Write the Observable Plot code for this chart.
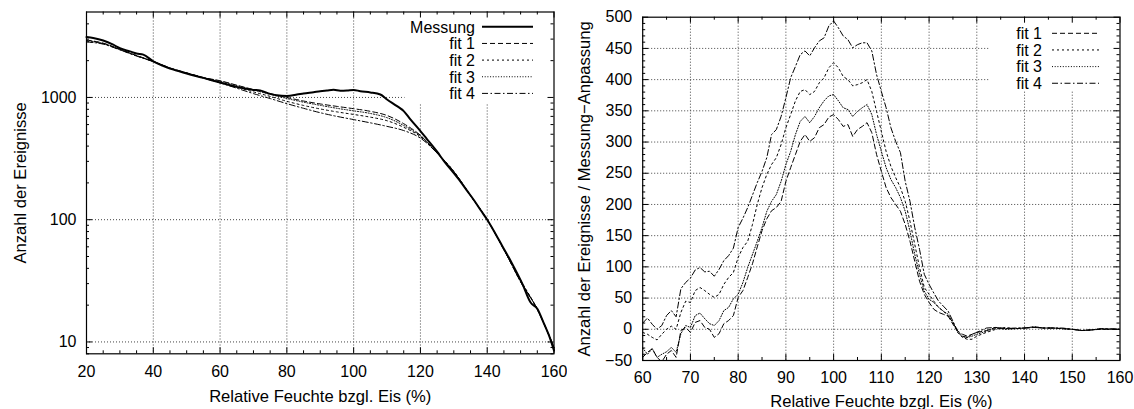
<!DOCTYPE html>
<html><head><meta charset="utf-8">
<script src="https://cdn.jsdelivr.net/npm/d3@7"></script>
<script src="https://cdn.jsdelivr.net/npm/@observablehq/plot@0.6"></script>
<style>
body{margin:0;background:#fff;}
#wrap{display:flex;width:1134px;height:409px;background:#fff;}
</style></head><body><div id="wrap"></div>
<script>
// ---------- DATA ----------
const seriesNames = ["Messung", "fit 1", "fit 2", "fit 3", "fit 4"];
const xLabel = "Relative Feuchte bzgl. Eis (%)";
const yLabelLeft = "Anzahl der Ereignisse";
const yLabelRight = "Anzahl der Ereignisse / Messung\u2212Anpassung";

// left panel: counts (log scale)
const xMessung = [20,22,25,28,30,33,35,37,40,43,45,48,50,55,60,65,70,72,75,77,80,83,85,88,90,92,94,96,98,100,102,105,108,110,113,115,117,120,122,125,127,130,132,134,136,138,140,142,144.5,147.5,150.5,153,155,157,158.5,160];
const messung  = [3120,3060,2920,2700,2530,2380,2285,2240,1975,1810,1720,1630,1570,1445,1325,1220,1153,1140,1070,1040,1030,1055,1078,1105,1125,1140,1155,1135,1140,1153,1125,1100,1058,963,849,773,661,531,455,360,303,240,205,172,145,120,100,81,61,43.5,30,21,18.7,14.1,11.3,8.5];

const xFit = [20,25,30,35,40,45,50,55,60,65,70,75,80,85,90,95,100,105,110,115,120,125,130,135,140,145,150,155,160];
const fit1 = [2950,2780,2480,2200,1975,1745,1590,1455,1370,1260,1160,1075,1000,935,885,845,809,770,712,610,490,352,246,158,100,57,31,18.5,9];
const fit2 = [2880,2750,2460,2190,1965,1735,1580,1445,1330,1215,1110,1020,930,860,805,762,726,690,645,570,478,350,250,157,100,57,32,18.5,9];
const fit3 = [2920,2770,2470,2200,1970,1740,1585,1450,1360,1250,1150,1060,980,915,862,815,777,740,683,590,485,350,248,158,100,57,31.5,18.5,9];
const fit4 = [2840,2730,2450,2180,1960,1730,1575,1440,1315,1190,1075,980,890,815,750,700,659,620,580,536,465,350,245,157,100,57,31,18.5,9];

// right panel: Messung - Anpassung
const xDiff = [60,61,62,63,64,65,66,67,68,69,70,71,72,73,74,75,76,77,78,79,80,81,82,83,84,85,86,87,88,89,90,91,92,93,94,95,96,97,98,99,100,101,102,103,104,105,106,107,108,109,110,111,112,113,114,115,116,117,118,119,120,121,122,123,124,125,126,127,128,129,130,132,134,136,138,140,142,144,146,148,150,152,154,156,158,160];
const diff1 = [-45,-37,-31,-45,-52,-40,-34,-45,-2,3,-5,11,14,3,0,-13,-7,9,14,22,51,62,83,105,132,158,177,190,195,205,237,259,280,301,312,301,307,323,328,340,344,336,325,328,309,320,325,331,315,280,253,227,211,200,189,168,141,109,77,56,43,32,27,24,21,8,-3,-8,-11,-8,-5,-2,3,1,1,2,3,2,2,1,0,-2,-1,0,0,0];
const diff2 = [-5,-8,-13,-17,-8,0,5,0,27,45,43,62,67,62,56,51,56,72,83,91,115,131,141,168,200,227,248,264,275,296,323,344,366,381,384,376,381,395,403,419,427,419,405,400,390,392,395,400,381,349,317,285,261,243,227,205,173,136,99,67,56,45,35,29,21,11,-5,-13,-16,-16,-11,-5,0,3,1,2,3,2,2,1,0,-2,-1,0,0,0];
const diff3 = [-30,-40,-31,-45,-40,-36,-29,-37,-7,6,3,22,26,17,9,6,14,30,35,49,56,75,99,120,141,163,189,205,216,237,264,285,312,333,341,331,341,355,366,374,376,366,355,352,341,349,355,360,344,312,285,259,240,227,211,189,157,120,88,61,48,43,35,29,24,11,-5,-12,-13,-11,-8,-3,2,0,1,2,4,2,2,1,0,-2,-1,1,0,0];
const diff4 = [10,18,8,0,6,22,30,20,65,75,82,95,99,92,93,85,96,110,118,130,163,178,195,215,235,253,275,312,320,341,371,403,421,440,446,438,451,462,467,486,494,483,470,464,451,456,459,459,446,408,381,355,323,301,283,237,205,163,128,88,72,58,45,37,29,13,-3,-11,-13,-8,-5,2,3,1,2,2,4,2,2,2,0,-2,-1,1,1,0];

// tick labels
const xTicksLeft = [20,40,60,80,100,120,140,160];
const yTicksLeft = [10,100,1000];
const xTicksRight = [60,70,80,90,100,110,120,130,140,150,160];
const yTicksRight = [-50,0,50,100,150,200,250,300,350,400,450,500];

// ---------- STYLE ----------
const FONT = "'Liberation Sans', Arial, Helvetica, sans-serif";
const dash = {"Messung": null, "fit 1": "5,3", "fit 2": "2,3", "fit 3": "1,1.7", "fit 4": "6,2.5,1.5,2.5"};
const width = {"Messung": 2, "fit 1": 1, "fit 2": 1, "fit 3": 1, "fit 4": 1};
const gridStyle = {stroke: "#444", strokeDasharray: "1,2", strokeWidth: 1};

function ticksMarks(xMajor, xMinor, yMajor, yMinor, fw, fh) {
  const M = 6, m = 3, s = {stroke: "black", strokeWidth: 1};
  return [
    Plot.ruleX(xMajor, {...s, insetTop: fh - M}),
    Plot.ruleX(xMajor, {...s, insetBottom: fh - M}),
    Plot.ruleX(xMinor, {...s, insetTop: fh - m}),
    Plot.ruleX(xMinor, {...s, insetBottom: fh - m}),
    Plot.ruleY(yMajor, {...s, insetRight: fw - M}),
    Plot.ruleY(yMajor, {...s, insetLeft: fw - M}),
    Plot.ruleY(yMinor, {...s, insetRight: fw - m}),
    Plot.ruleY(yMinor, {...s, insetLeft: fw - m})
  ];
}

function addLegend(svg, names, textEnd, lineX1, lineX2, top, step) {
  const g = d3.select(svg).append("g").attr("font-family", FONT).attr("font-size", 16);
  names.forEach((n, i) => {
    const y = top + i * step;
    g.append("text").attr("x", textEnd).attr("y", y).attr("dy", "0.36em")
      .attr("text-anchor", "end").attr("fill", "black").text(n);
    g.append("line").attr("x1", lineX1).attr("x2", lineX2).attr("y1", y).attr("y2", y)
      .attr("stroke", "black").attr("stroke-width", width[n])
      .attr("stroke-dasharray", dash[n]);
  });
}

// ---------- LEFT PANEL ----------
const L = {W: 567, H: 409, mL: 86, mR: 13.5, mT: 11.5, mB: 55.7};
L.fw = L.W - L.mL - L.mR; L.fh = L.H - L.mT - L.mB;

const messRows = xMessung.map((x, i) => ({x, y: messung[i]}));
const fitsL = [fit1, fit2, fit3, fit4].map(arr => xFit.map((x, i) => ({x, y: arr[i]})));

const xMinorL = d3.range(25, 160, 5).filter(v => v % 20 !== 0);
const yMinorL = [];
[1, 10, 100, 1000].forEach(d => { for (let k = 2; k <= 9; k++) { const v = k * d; if (v >= 8 && v < 5000) yMinorL.push(v); } });

const left = Plot.plot({
  width: L.W, height: L.H,
  marginLeft: L.mL, marginRight: L.mR, marginTop: L.mT, marginBottom: L.mB,
  style: {fontFamily: FONT, fontSize: "16px", color: "black", background: "white", overflow: "visible"},
  x: {domain: [20, 160]},
  y: {type: "log", domain: [8, 5000]},
  marks: [
    Plot.ruleX(xTicksLeft.slice(1, -1), gridStyle),
    Plot.ruleY(yTicksLeft, gridStyle),
    Plot.frame({fill: "white", stroke: "none", insetLeft: 318, insetBottom: 250}),
    ...fitsL.map((rows, k) => Plot.line(rows, {x: "x", y: "y", stroke: "black",
      strokeWidth: width[seriesNames[k + 1]], strokeDasharray: dash[seriesNames[k + 1]], curve: "monotone-x"})),
    Plot.line(messRows, {x: "x", y: "y", stroke: "black", strokeWidth: 2, curve: "monotone-x"}),
    Plot.frame({stroke: "black", strokeWidth: 1.2}),
    ...ticksMarks(xTicksLeft, xMinorL, yTicksLeft, yMinorL, L.fw, L.fh),
    Plot.axisX({ticks: xTicksLeft, tickSize: 0, tickPadding: 11.5, fontSize: 16, label: null, tickFormat: d => String(d)}),
    Plot.axisY({ticks: yTicksLeft, tickSize: 0, tickPadding: 10, fontSize: 16, label: null, tickFormat: d => String(d)}),
    Plot.text([xLabel], {frameAnchor: "bottom", dy: 42.4, lineAnchor: "middle", fontSize: 16.6}),
    Plot.text([yLabelLeft], {frameAnchor: "left", dx: -66, rotate: -90, lineAnchor: "middle", textAnchor: "middle", fontSize: 16.6})
  ]
});
addLegend(left, seriesNames, 475, 482, 533, 26.8, 16.65);

// ---------- RIGHT PANEL ----------
const R = {W: 567, H: 409, mL: 75.2, mR: 14.5, mT: 16.7, mB: 49};
R.fw = R.W - R.mL - R.mR; R.fh = R.H - R.mT - R.mB;
const diffs = [diff1, diff2, diff3, diff4].map(arr => xDiff.map((x, i) => ({x, y: arr[i]})));
const xMinorR = d3.range(65, 160, 10);
const yMinorR = d3.range(-40, 500, 10).filter(v => v % 50 !== 0);

const right = Plot.plot({
  width: R.W, height: R.H,
  marginLeft: R.mL, marginRight: R.mR, marginTop: R.mT, marginBottom: R.mB,
  style: {fontFamily: FONT, fontSize: "16px", color: "black", background: "white", overflow: "visible"},
  x: {domain: [60, 160]},
  y: {domain: [-50, 500]},
  marks: [
    Plot.ruleX(xTicksRight.slice(1, -1), gridStyle),
    Plot.ruleY(yTicksRight.slice(1, -1), gridStyle),
    Plot.frame({fill: "white", stroke: "none", insetLeft: 347, insetBottom: 270}),
    ...diffs.map((rows, k) => Plot.line(rows, {x: "x", y: "y", stroke: "black", clip: true,
      strokeWidth: width[seriesNames[k + 1]], strokeDasharray: dash[seriesNames[k + 1]]})),
    Plot.frame({stroke: "black", strokeWidth: 1.2}),
    ...ticksMarks(xTicksRight, xMinorR, yTicksRight, yMinorR, R.fw, R.fh),
    Plot.axisX({ticks: xTicksRight, tickSize: 0, tickPadding: 11, fontSize: 16, label: null}),
    Plot.axisY({ticks: yTicksRight, tickSize: 0, tickPadding: 10.5, fontSize: 16, label: null}),
    Plot.text([xLabel], {frameAnchor: "bottom", dy: 41, lineAnchor: "middle", fontSize: 16.6}),
    Plot.text([yLabelRight], {frameAnchor: "left", dx: -58.2, rotate: -90, lineAnchor: "middle", textAnchor: "middle", fontSize: 16.6})
  ]
});
addLegend(right, seriesNames.slice(1), 475, 485, 532, 33.3, 16.65);

document.getElementById("wrap").append(left, right);
</script></body></html>
